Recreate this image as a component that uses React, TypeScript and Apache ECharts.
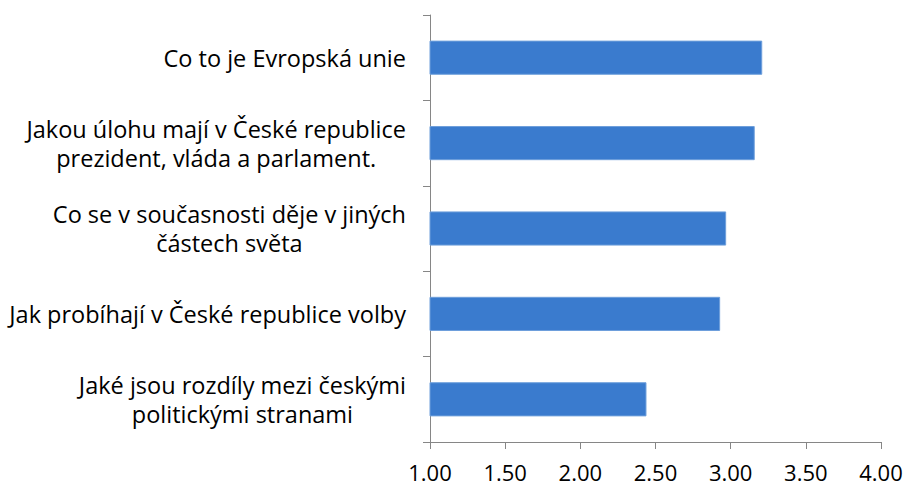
import React, { useEffect, useRef } from "react";
import * as echarts from "echarts";

const categories: string[] = [
  "Co to je Evropská unie",
  "Jakou úlohu mají v České republice\nprezident, vláda a parlament.",
  "Co se v současnosti děje v jiných\nčástech světa",
  "Jak probíhají v České republice volby",
  "Jaké jsou rozdíly mezi českými\npolitickými stranami",
];

const values: number[] = [3.21, 3.16, 2.97, 2.93, 2.44];

const FONT = "'Open Sans', sans-serif";

export default function App() {
  const ref = useRef<HTMLDivElement>(null);
  useEffect(() => {
    if (!ref.current) return;
    const chart = echarts.init(ref.current, undefined, { renderer: "svg" });
    chart.setOption({
      animation: false,
      backgroundColor: "#ffffff",
      grid: { left: 430, right: 26, top: 15, bottom: 44, containLabel: false },
      xAxis: {
        type: "value",
        min: 1,
        max: 4,
        interval: 0.5,
        axisLine: { show: true, lineStyle: { color: "#868686", width: 1 } },
        axisTick: { show: true, length: 7, lineStyle: { color: "#868686" } },
        splitLine: { show: false },
        axisLabel: {
          margin: 21,
          fontSize: 22,
          lineHeight: 18,
          fontFamily: FONT,
          color: "#000000",
          formatter: (v: number) => v.toFixed(2),
        },
      },
      yAxis: {
        type: "category",
        inverse: true,
        data: categories,
        axisLine: { show: true, lineStyle: { color: "#868686", width: 1 } },
        axisTick: { show: true, length: 7, lineStyle: { color: "#868686" } },
        axisLabel: {
          margin: 24,
          align: "right",
          formatter: (v: string) =>
            v
              .split("\n")
              .map((l) => `{c|${l}}`)
              .join("\n"),
          rich: {
            c: {
              align: "center",
              fontSize: 23.5,
              fontFamily: FONT,
              color: "#000000",
              lineHeight: 29,
            },
          },
        },
      },
      series: [
        {
          type: "bar",
          data: values,
          barCategoryGap: "60%",
          itemStyle: {
            color: "#3A7BCE",
            borderColor: "#6E9FDB",
            borderWidth: 1,
          },
        },
      ],
    });
    return () => chart.dispose();
  }, []);
  return <div ref={ref} style={{ width: 907, height: 486, position: "absolute", left: 0, top: 0 }} />;
}
